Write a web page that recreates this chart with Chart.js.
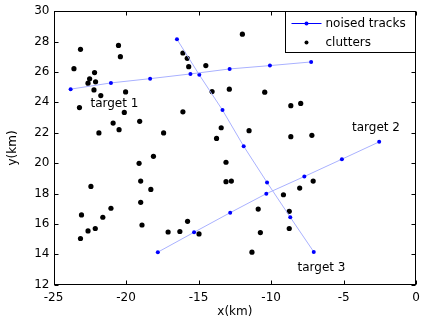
<!DOCTYPE html>
<html lang="en">
<head>
<meta charset="UTF-8">
<title>Noised tracks and clutters</title>
<script src="https://cdn.jsdelivr.net/npm/chart.js"></script>
<style>
  body { margin: 0; background: #fff; }
  #wrap { width: 426px; height: 324px; }
</style>
</head>
<body>
<div id="wrap"><canvas id="plot" width="426" height="324"></canvas></div>
<script>
// noised tracks (km)
const track1X = [-23.82, -21.04, -18.34, -15.56, -12.86, -10.08, -7.24];
const track1Y = [24.87, 25.28, 25.56, 25.87, 26.20, 26.42, 26.66];
const track2X = [-17.81, -15.31, -12.82, -10.33, -7.71, -5.12, -2.55];
const track2Y = [14.14, 15.45, 16.74, 17.99, 19.12, 20.26, 21.40];
const track3X = [-16.49, -14.95, -13.35, -11.89, -10.28, -8.68, -7.06];
const track3Y = [28.15, 25.81, 23.49, 21.11, 18.73, 16.44, 14.16];

// clutters (km)
const clutterX = [-23.14, -20.52, -20.39, -23.59, -22.17, -22.51, -22.10, -22.62, -22.21, -20.03,
  -21.74, -23.21, -20.12, -19.06, -20.89, -20.48, -21.87, -17.41, -11.98, -16.08,
  -15.78, -15.68, -14.50, -14.07, -12.88, -10.44, -8.64, -16.08, -13.44, -11.52,
  -13.76, -8.64, -7.96, -7.19, -18.11, -19.10, -22.42, -18.99, -18.29, -18.99,
  -21.04, -23.07, -21.60, -22.12, -22.62, -23.14, -18.90, -17.10, -13.11, -13.11,
  -12.74, -9.15, -8.75, -8.75, -10.89, -15.76, -16.29, -14.97, -10.74, -11.32,
  -8.03, -7.10];
const clutterY = [27.49, 27.75, 27.01, 26.22, 25.96, 25.55, 25.35, 25.26, 24.82, 24.69,
  24.45, 23.66, 23.34, 22.75, 22.64, 22.20, 21.99, 21.99, 28.49, 27.25,
  26.90, 26.35, 26.42, 24.71, 24.87, 24.67, 23.78, 23.38, 22.33, 22.14,
  21.63, 21.74, 23.93, 21.83, 20.45, 19.99, 18.47, 18.82, 18.27, 17.42,
  17.03, 16.59, 16.44, 15.70, 15.54, 15.04, 15.93, 15.47, 20.06, 18.78,
  18.82, 17.92, 16.83, 15.70, 16.98, 16.17, 15.50, 15.34, 15.43, 14.14,
  18.36, 18.82];

// axes
const xTicks = [-25, -20, -15, -10, -5, 0];
const yTicks = [12, 14, 16, 18, 20, 22, 24, 26, 28, 30];

// target labels
const targetNames = ['target 1', 'target 2', 'target 3'];
const targetX = [-20.8, -2.77, -6.53];
const targetY = [23.9, 22.33, 13.09];

const legendNames = ['noised tracks', 'clutters'];

function toPoints(xs, ys) {
  return xs.map((v, i) => ({ x: v, y: ys[i] }));
}

const FONT = '"DejaVu Sans", sans-serif';
Chart.defaults.font.family = FONT;
Chart.defaults.font.size = 12;
Chart.defaults.color = '#000';

function trackSet(xs, ys) {
  return {
    data: toPoints(xs, ys),
    showLine: true,
    borderColor: '#a9b1ff',
    borderWidth: 1,
    pointRadius: 2,
    pointBackgroundColor: '#0000ff',
    pointBorderWidth: 0
  };
}

// box, inner tick marks, target labels and legend (matlab style)
const framePlugin = {
  id: 'frame',
  afterDatasetsDraw(chart) {
    const { ctx, chartArea: a, scales } = chart;
    const L = Math.round(a.left) + 0.5, R = Math.round(a.right) - 0.5;
    const T = Math.round(a.top) + 0.5, B = Math.round(a.bottom) - 0.5;
    ctx.save();
    ctx.strokeStyle = '#000';
    ctx.lineWidth = 1;
    ctx.beginPath();
    xTicks.forEach(v => {
      const px = Math.round(scales.x.getPixelForValue(v)) + 0.5;
      ctx.moveTo(px, B); ctx.lineTo(px, B - 4);
      ctx.moveTo(px, T); ctx.lineTo(px, T + 4);
    });
    yTicks.forEach(v => {
      const py = Math.round(scales.y.getPixelForValue(v)) + 0.5;
      ctx.moveTo(L, py); ctx.lineTo(L + 4, py);
      ctx.moveTo(R, py); ctx.lineTo(R - 4, py);
    });
    ctx.stroke();
    ctx.strokeRect(L, T, R - L, B - T);

    ctx.fillStyle = '#000';
    ctx.font = '12px ' + FONT;
    ctx.textAlign = 'center';
    ctx.textBaseline = 'middle';
    targetNames.forEach((t, i) => {
      ctx.fillText(t, scales.x.getPixelForValue(targetX[i]), scales.y.getPixelForValue(targetY[i]));
    });

    // legend
    const lw = 130, lh = 41;
    const lx = R - lw, ly = T;
    ctx.fillStyle = '#fff';
    ctx.fillRect(lx, ly, lw, lh);
    ctx.strokeRect(lx, ly, lw, lh);
    ctx.strokeStyle = '#0000ff';
    ctx.beginPath();
    ctx.moveTo(lx + 6, ly + 12); ctx.lineTo(lx + 36, ly + 12);
    ctx.stroke();
    ctx.fillStyle = '#0000ff';
    ctx.beginPath(); ctx.arc(lx + 21, ly + 12, 2, 0, Math.PI * 2); ctx.fill();
    ctx.fillStyle = '#000';
    ctx.beginPath(); ctx.arc(lx + 21, ly + 31, 2, 0, Math.PI * 2); ctx.fill();
    ctx.textAlign = 'left';
    ctx.fillText(legendNames[0], lx + 40, ly + 12);
    ctx.fillText(legendNames[1], lx + 40, ly + 31);
    ctx.restore();
  }
};

new Chart(document.getElementById('plot'), {
  type: 'scatter',
  data: {
    datasets: [
      trackSet(track1X, track1Y),
      trackSet(track2X, track2Y),
      trackSet(track3X, track3Y),
      {
        data: toPoints(clutterX, clutterY),
        pointRadius: 2.6,
        pointBackgroundColor: '#000',
        pointBorderWidth: 0
      }
    ]
  },
  options: {
    responsive: false,
    animation: false,
    events: [],
    layout: { padding: { top: 10, right: 3, left: 0, bottom: 0 } },
    plugins: { legend: { display: false }, tooltip: { enabled: false } },
    scales: {
      x: {
        min: -25, max: 0,
        grid: { display: false, drawTicks: false },
        border: { display: false },
        afterBuildTicks: s => { s.ticks = xTicks.map(v => ({ value: v })); },
        afterFit: s => { s.height = 39.3; },
        ticks: { padding: 6, maxRotation: 0, autoSkip: false },
        title: { display: true, text: 'x(km)', padding: { top: 0, bottom: 5 } }
      },
      y: {
        min: 12, max: 30,
        grid: { display: false, drawTicks: false },
        border: { display: false },
        afterBuildTicks: s => { s.ticks = yTicks.map(v => ({ value: v })); },
        afterFit: s => { s.width = 53.5; },
        ticks: { padding: 4, autoSkip: false },
        title: { display: true, text: 'y(km)', padding: { top: 6, bottom: 0 } }
      }
    }
  },
  plugins: [framePlugin]
});
</script>
</body>
</html>
